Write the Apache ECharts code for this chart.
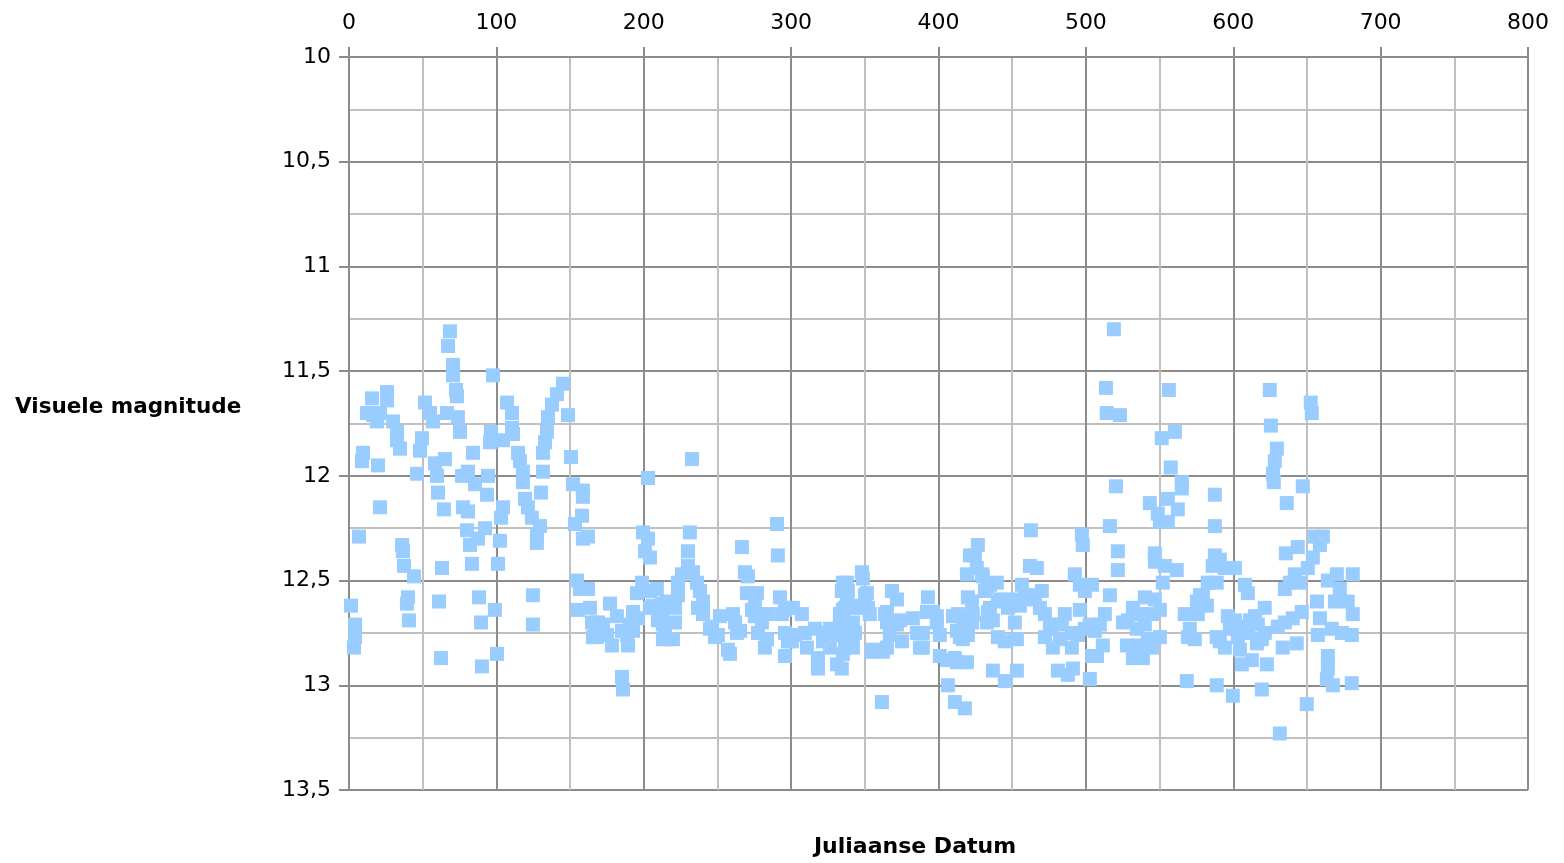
<!DOCTYPE html>
<html><head><meta charset="utf-8">
<script src="https://cdn.jsdelivr.net/npm/echarts@6/dist/echarts.min.js"></script>
<style>html,body{margin:0;padding:0;background:#fff}#c{width:1564px;height:863px}</style>
</head><body><div id="c"></div>
<script>
const xTitle = "Juliaanse Datum";
const yTitle = "Visuele magnitude";
const xTicks = [0,100,200,300,400,500,600,700,800];
const yTicks = [10,10.5,11,11.5,12,12.5,13,13.5];
const days = [
1.4,3.4,4.1,4.1,6.8,8.8,9.5,12.2,15.6,16.3,19.0,19.7,21.0,21.0,25.8,25.8,29.9,32.6,32.6,34.6,
36.0,36.6,37.3,39.3,40.0,40.7,44.1,46.1,48.2,49.5,51.6,55.0,57.0,58.3,59.7,60.4,61.1,62.4,63.1,64.4,
65.1,66.5,67.2,68.5,70.6,70.6,72.6,73.3,73.9,75.3,76.7,77.3,80.1,80.7,80.7,82.1,83.4,84.1,85.5,87.5,
88.2,89.6,90.2,92.3,93.6,94.3,95.7,96.3,97.7,99.0,100.4,101.1,102.4,104.5,103.1,104.5,107.2,110.6,110.6,111.3,
114.7,116.0,118.0,118.0,119.4,121.4,124.1,124.8,124.8,127.5,127.5,129.6,130.3,131.6,131.6,133.0,134.3,135.0,137.7,141.1,
145.2,148.6,150.6,152.0,153.3,154.7,156.7,155.4,158.1,158.7,158.7,158.7,162.1,162.1,163.5,164.9,165.5,166.9,172.3,175.0,
177.1,178.4,181.8,185.2,185.9,188.6,189.3,190.6,192.7,195.4,196.1,198.8,199.5,200.8,202.9,202.9,204.2,204.2,206.2,208.9,
212.3,213.0,215.7,215.7,219.8,221.2,221.2,223.2,225.9,230.0,230.0,231.3,232.7,233.4,236.1,238.1,240.2,240.2,244.9,248.3,
250.3,251.7,258.5,260.5,263.2,266.6,268.6,270.7,270.0,275.4,275.4,276.8,277.5,282.2,284.2,290.4,291.0,292.4,293.7,295.8,
297.1,297.8,302.6,307.3,309.3,310.7,316.1,318.2,321.6,326.3,331.1,331.7,333.1,334.4,335.1,
334.4,336.5,336.5,337.8,337.8,338.5,341.9,341.9,346.7,348.0,348.7,350.1,352.1,354.8,361.6,362.3,365.0,367.0,368.4,371.8,
371.8,375.2,382.6,385.3,389.4,392.1,392.8,398.9,400.9,400.9,405.7,406.4,411.1,411.1,413.2,416.5,417.9,419.3,419.9,419.9,421.3,
419.3,422.7,422.7,424.7,426.0,426.7,429.4,431.5,432.8,433.5,436.9,439.6,440.3,440.3,445.0,445.0,447.1,451.8,453.2,453.2,
456.6,458.6,462.0,462.7,466.7,470.1,468.8,472.2,472.2,476.9,477.6,481.0,485.7,487.8,490.5,490.5,491.2,492.5,494.6,495.9,
497.3,497.9,499.3,502.7,502.7,504.1,
504.1,506.1,507.5,509.5,511.5,512.9,513.6,514.2,516.3,516.3,519.0,520.4,521.7,521.7,523.1,525.1,527.8,531.9,531.9,534.6,
535.3,538.7,540.0,543.4,544.8,544.8,546.8,546.8,548.8,550.2,550.2,551.5,552.2,553.6,555.6,555.6,556.3,557.6,560.4,561.7,
562.4,565.1,565.1,567.1,568.5,569.2,570.5,575.3,579.4,582.1,582.7,586.1,587.5,587.5,587.5,588.8,588.8,
588.8,590.9,590.9,594.3,594.3,596.3,597.7,599.7,601.1,605.8,605.8,607.9,609.9,609.9,612.6,614.7,616.0,619.4,621.4,621.4,
622.8,624.8,625.5,626.9,627.5,628.2,629.6,630.2,631.6,633.6,635.0,635.0,635.7,636.3,638.4,640.4,641.8,643.1,643.8,645.2,
646.5,647.2,649.9,650.6,652.6,653.3,654.0,655.4,656.8,657.4,658.8,658.8,660.8,663.5,664.2,664.2,664.2,666.9,667.6,669.0,
670.3,672.3,673.7,677.7,680.4,680.4,681.1,681.1,
223.2,236.8,246.3,257.1,261.9,265.3,273.4,280.2,283.6,295.8,295.8,204.2,212.3,209.6,214.4,213.0,168.9,168.2,192.7,185.2,
430.1,432.8,434.9,436.9,423.3,415.9,412.5,416.5,412.5,351.4,337.8,335.1,344.6,353.4,333.1,341.9,343.3,341.2,335.1,318.2,
301.2,300.5,324.3,326.3,337.8,363.6,365.0,355.5,365.0,373.8,389.4,387.4,396.2,398.9,409.8,414.5,
434.9,441.7,449.8,455.2,462.0,465.4,475.6,482.4,483.7,499.3,495.9,
528.5,536.6,540.0,542.0,546.8,550.2,576.0,573.9,577.4,601.1,603.1,611.3,616.7,619.4,604.5
];
const magnitudes = [
12.62,12.82,12.71,12.77,12.29,11.93,11.89,11.70,11.63,11.71,11.74,11.95,11.70,12.15,11.60,11.64,11.74,11.79,11.83,11.87,
12.33,12.36,12.43,12.61,12.58,12.69,12.48,11.99,11.88,11.82,11.65,11.70,11.74,11.94,12.00,12.08,12.60,12.87,12.44,12.16,
11.92,11.70,11.38,11.31,11.47,11.52,11.59,11.62,11.72,11.79,12.00,12.15,12.26,12.17,11.98,12.33,12.42,11.89,12.04,12.30,
12.58,12.70,12.91,12.25,12.09,12.00,11.84,11.79,11.52,12.64,12.85,12.42,12.31,11.83,12.20,12.15,11.65,11.70,11.77,11.80,
11.89,11.93,11.98,12.03,12.11,12.15,12.20,12.57,12.71,12.28,12.32,12.24,12.08,11.98,11.89,11.84,11.79,11.72,11.66,11.61,
11.56,11.71,11.91,12.04,12.23,12.50,12.54,12.64,12.19,12.07,12.10,12.30,12.29,12.54,12.63,12.70,12.77,12.75,12.71,12.76,
12.61,12.81,12.67,12.96,13.02,12.76,12.81,12.71,12.65,12.56,12.68,12.51,12.27,12.36,12.30,12.01,12.39,12.55,12.62,12.54,
12.65,12.71,12.60,12.78,12.78,12.70,12.63,12.57,12.47,12.43,12.36,12.27,11.92,12.46,12.51,12.55,12.60,12.66,12.73,12.77,
12.76,12.67,12.85,12.66,12.75,12.34,12.46,12.48,12.56,12.62,12.67,12.56,12.75,12.82,12.66,12.23,12.38,12.58,12.66,12.86,
12.63,12.79,12.76,12.66,12.75,12.82,12.73,12.92,12.79,12.73,12.90,12.76,12.66,12.55,12.51,
12.92,12.63,12.82,12.51,12.71,12.55,12.76,12.82,12.62,12.46,12.49,12.57,12.63,12.84,13.08,12.84,12.65,12.76,12.55,12.59,
12.71,12.79,12.68,12.75,12.82,12.65,12.58,12.67,12.76,12.86,12.88,13.00,12.87,13.08,12.66,12.73,13.11,12.47,12.58,12.76,12.38,
12.89,12.60,12.70,12.38,12.44,12.33,12.47,12.55,12.70,12.65,12.93,12.51,12.60,12.77,12.79,12.98,12.63,12.70,12.78,12.93,
12.52,12.57,12.43,12.26,12.44,12.55,12.63,12.66,12.77,12.73,12.82,12.93,12.66,12.95,12.75,12.82,12.92,12.47,12.76,12.52,
12.28,12.33,12.55,12.71,12.97,12.86,
12.52,12.74,12.86,12.71,12.81,12.66,11.58,11.70,12.24,12.57,11.30,12.05,12.36,12.45,11.71,12.70,12.81,12.63,12.87,12.73,
12.81,12.87,12.58,12.13,12.66,12.82,12.37,12.41,12.18,12.22,12.77,11.82,12.51,12.43,12.11,12.22,11.59,11.96,11.79,12.45,
12.16,12.03,12.06,12.66,12.98,12.77,12.73,12.60,12.57,12.62,12.51,12.43,12.09,12.24,12.38,12.77,13.00,
12.51,12.40,12.79,12.44,12.82,12.67,12.73,13.05,12.44,12.72,12.90,12.52,12.56,12.75,12.88,12.67,12.80,13.02,12.63,12.75,
12.90,11.59,11.76,11.99,12.03,11.93,11.87,12.72,13.23,12.82,12.54,12.70,12.37,12.13,12.51,12.68,12.47,12.80,12.34,12.51,
12.65,12.05,13.09,12.44,11.65,11.70,12.39,12.29,12.60,12.76,12.33,12.68,12.29,12.97,12.50,12.86,12.92,12.73,13.00,12.60,
12.47,12.54,12.75,12.60,12.76,12.99,12.47,12.66,
12.51,12.63,12.72,12.83,12.70,12.74,12.64,12.70,12.78,12.64,12.75,12.63,12.61,12.69,12.75,12.78,12.70,12.77,12.74,12.74,
12.48,12.53,12.63,12.69,12.66,12.67,12.74,12.78,12.89,12.56,12.58,12.64,12.63,12.66,12.70,12.70,12.75,12.80,12.85,12.87,
12.63,12.79,12.75,12.82,12.77,12.66,12.70,12.83,12.82,12.69,12.75,12.82,12.65,12.70,12.67,12.77,
12.52,12.59,12.59,12.62,12.59,12.57,12.71,12.78,12.71,12.73,12.64,
12.69,12.66,12.71,12.78,12.59,12.64,12.66,12.78,12.57,12.69,12.77,12.69,12.71,12.78,12.83
];
const points = days.map((d,i)=>[d, magnitudes[i]]);
const chart = echarts.init(document.getElementById('c'), null, {renderer:'canvas'});
const font = "'DejaVu Sans', Verdana, sans-serif";
chart.setOption({
  animation:false,
  grid:{left:349,right:36,top:57,bottom:73,containLabel:false},
  xAxis:{type:'value',position:'top',min:xTicks[0],max:xTicks[xTicks.length-1],interval:100,
    axisLine:{show:true,onZero:false,lineStyle:{color:'#8c8c8c',width:2}},
    axisTick:{show:true,inside:false,length:10,lineStyle:{color:'#8c8c8c',width:2}},
    axisLabel:{show:true,margin:23,fontSize:22,color:'#000',fontFamily:font},
    splitLine:{show:true,lineStyle:{color:'#8c8c8c',width:2}},
    minorTick:{show:false,splitNumber:2},
    minorSplitLine:{show:true,lineStyle:{color:'#c0c0c0',width:2}}
  },
  yAxis:{type:'value',inverse:true,min:yTicks[0],max:yTicks[yTicks.length-1],interval:0.5,
    axisLine:{show:true,onZero:false,lineStyle:{color:'#8c8c8c',width:2}},
    axisTick:{show:true,length:10,lineStyle:{color:'#8c8c8c',width:2}},
    axisLabel:{margin:18,fontSize:22,color:'#000',fontFamily:font,
      formatter:v=>String(v).replace('.',',')},
    splitLine:{show:true,lineStyle:{color:'#8c8c8c',width:2}},
    minorTick:{show:false,splitNumber:2},
    minorSplitLine:{show:true,lineStyle:{color:'#c0c0c0',width:2}}
  },
  graphic:[
    {type:'text',x:15,y:396,style:{text:yTitle,font:"bold 21.5px "+font,fill:'#000'}},
    {type:'text',x:915,y:836,style:{text:xTitle,textAlign:'center',font:"bold 22px "+font,fill:'#000'}}
  ],
  series:[{type:'scatter',data:points,symbol:'rect',symbolSize:14,
    itemStyle:{color:'#99ccff',opacity:1},emphasis:{disabled:true}}]
});
</script></body></html>
